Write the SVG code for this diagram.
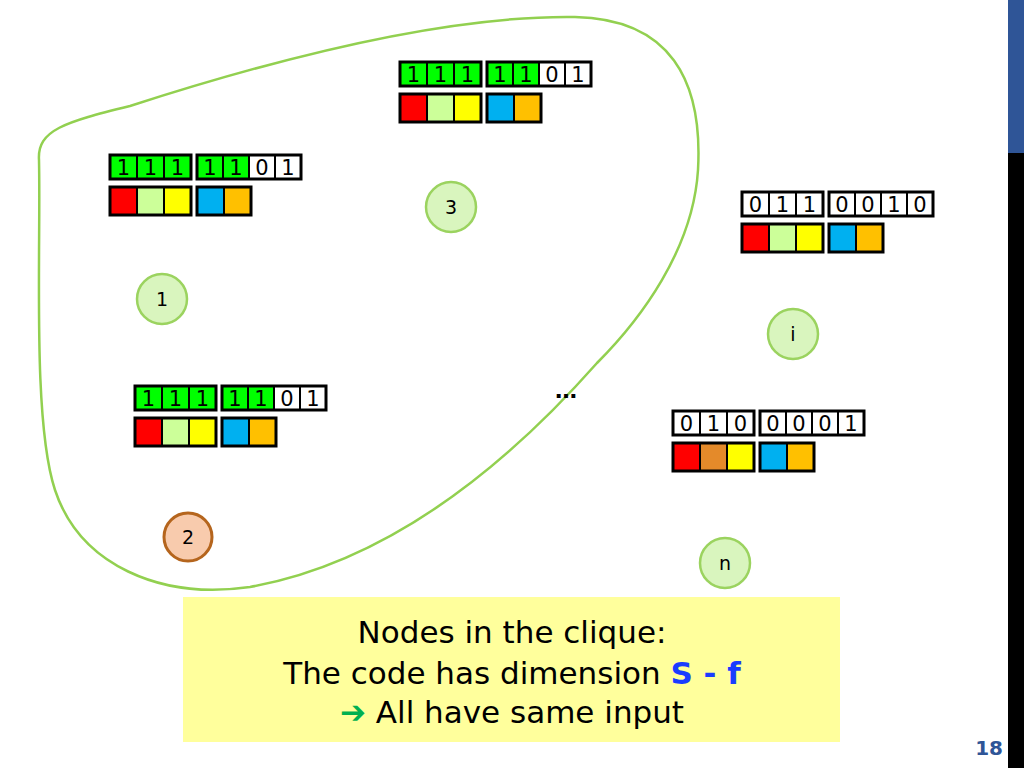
<svg xmlns="http://www.w3.org/2000/svg" width="1024" height="768" viewBox="0 0 1024 768">
<style>
.b{stroke:#000;stroke-width:2}
.g{fill:#00FF00}
.w{fill:#FFFFFF}
.o{fill:none;stroke:#000;stroke-width:3}
.bt{font-family:"DejaVu Sans",sans-serif;font-size:21px;fill:#000;text-anchor:middle}
.cr{fill:#FF0000;stroke:#000;stroke-width:2}
.cl{fill:#CCFF99;stroke:#000;stroke-width:2}
.cy{fill:#FFFF00;stroke:#000;stroke-width:2}
.cb{fill:#00B0F0;stroke:#000;stroke-width:2}
.co{fill:#FFC000;stroke:#000;stroke-width:2}
.cd{fill:#E48A2A;stroke:#000;stroke-width:2}
.nd{fill:#D9F5BE;stroke:#9BD35F;stroke-width:2.5}
.nt{font-family:"DejaVu Sans",sans-serif;font-size:19px;fill:#000;text-anchor:middle}
.mt{font-family:"DejaVu Sans",sans-serif;font-size:31px;fill:#000;text-anchor:middle}
</style>
<defs>
<g id="row-green">
<rect class="b g" x="0" y="0" width="27" height="24"/><rect class="b g" x="27" y="0" width="27" height="24"/><rect class="b g" x="54" y="0" width="27" height="24"/>
<rect class="o" x="0" y="0" width="81" height="24"/>
<rect class="b g" x="87" y="0" width="26" height="24"/><rect class="b g" x="113" y="0" width="26" height="24"/><rect class="b w" x="139" y="0" width="26" height="24"/><rect class="b w" x="165" y="0" width="26" height="24"/>
<rect class="o" x="87" y="0" width="104" height="24"/>
<text class="bt" x="13.5" y="20">1</text><text class="bt" x="40.5" y="20">1</text><text class="bt" x="67.5" y="20">1</text>
<text class="bt" x="100" y="20">1</text><text class="bt" x="126" y="20">1</text><text class="bt" x="152" y="20">0</text><text class="bt" x="178" y="20">1</text>
</g>
<g id="frame">
<rect class="b w" x="0" y="0" width="27" height="24"/><rect class="b w" x="27" y="0" width="27" height="24"/><rect class="b w" x="54" y="0" width="27" height="24"/>
<rect class="o" x="0" y="0" width="81" height="24"/>
<rect class="b w" x="87" y="0" width="26" height="24"/><rect class="b w" x="113" y="0" width="26" height="24"/><rect class="b w" x="139" y="0" width="26" height="24"/><rect class="b w" x="165" y="0" width="26" height="24"/>
<rect class="o" x="87" y="0" width="104" height="24"/>
</g>
<g id="colors">
<rect class="cr" x="0" y="32" width="27" height="28"/><rect class="cl" x="27" y="32" width="27" height="28"/><rect class="cy" x="54" y="32" width="27" height="28"/>
<rect class="o" x="0" y="32" width="81" height="28"/>
<rect class="cb" x="87" y="32" width="27" height="28"/><rect class="co" x="114" y="32" width="27" height="28"/>
<rect class="o" x="87" y="32" width="54" height="28"/>
</g>
</defs>

<rect x="1008" y="0" width="16" height="153" fill="#2F5597"/>
<rect x="1008" y="153" width="16" height="615" fill="#000"/>

<g id="connectors">
<path id="clique" d="M 39,160 C 37,130 65,122 130,106 C 260,64 440,15 575,17 C 670,19 703,80 698,170 C 693,250 640,320 597,363 C 520,450 400,560 250,587 C 160,600 80,565 55,490 C 32,420 41,250 39,160 Z" fill="none" stroke="#92D050" stroke-width="2.5"/>
</g>

<g id="code3" transform="translate(400,62)">
<use href="#row-green"/><use href="#colors"/>
</g>
<g id="code1" transform="translate(110,155)">
<use href="#row-green"/><use href="#colors"/>
</g>
<g id="code2" transform="translate(135,386)">
<use href="#row-green"/><use href="#colors"/>
</g>
<g id="codei" transform="translate(742,192)">
<use href="#frame"/>
<text class="bt" x="13.5" y="20">0</text><text class="bt" x="40.5" y="20">1</text><text class="bt" x="67.5" y="20">1</text>
<text class="bt" x="100" y="20">0</text><text class="bt" x="126" y="20">0</text><text class="bt" x="152" y="20">1</text><text class="bt" x="178" y="20">0</text>
<use href="#colors"/>
</g>
<g id="coden" transform="translate(673,411)">
<use href="#frame"/>
<text class="bt" x="13.5" y="20">0</text><text class="bt" x="40.5" y="20">1</text><text class="bt" x="67.5" y="20">0</text>
<text class="bt" x="100" y="20">0</text><text class="bt" x="126" y="20">0</text><text class="bt" x="152" y="20">0</text><text class="bt" x="178" y="20">1</text>
<rect class="cr" x="0" y="32" width="27" height="28"/><rect class="cd" x="27" y="32" width="27" height="28"/><rect class="cy" x="54" y="32" width="27" height="28"/>
<rect class="o" x="0" y="32" width="81" height="28"/>
<rect class="cb" x="87" y="32" width="27" height="28"/><rect class="co" x="114" y="32" width="27" height="28"/>
<rect class="o" x="87" y="32" width="54" height="28"/>
</g>

<g id="node3"><circle class="nd" cx="451" cy="207" r="25"/><text class="nt" x="451" y="214">3</text></g>
<g id="node1"><circle class="nd" cx="162" cy="299" r="25"/><text class="nt" x="162" y="306">1</text></g>
<g id="nodei"><circle class="nd" cx="793" cy="334" r="25"/><text class="nt" x="793" y="341">i</text></g>
<g id="node2"><circle cx="188" cy="537" r="24" fill="#F8CBAD" stroke="#B5651D" stroke-width="3"/><text class="nt" x="188" y="544">2</text></g>
<g id="noden"><circle class="nd" cx="725" cy="563" r="25"/><text class="nt" x="725" y="570">n</text></g>

<text x="566" y="398" font-family="DejaVu Sans,sans-serif" font-size="22" font-weight="bold" text-anchor="middle" fill="#000">…</text>

<g id="note">
<rect x="183" y="597" width="657" height="145" fill="#FFFF9C"/>
<text class="mt" x="512" y="643">Nodes in the clique:</text>
<text class="mt" x="512" y="684">The code has dimension <tspan font-weight="bold" fill="#1A3CFF">S - f</tspan></text>
<text class="mt" x="512" y="723"><tspan fill="#00B050">➔</tspan> All have same input</text>
</g>

<text x="1003" y="755" font-family="DejaVu Sans,sans-serif" font-size="20" font-weight="bold" text-anchor="end" fill="#2F5597">18</text>
</svg>
